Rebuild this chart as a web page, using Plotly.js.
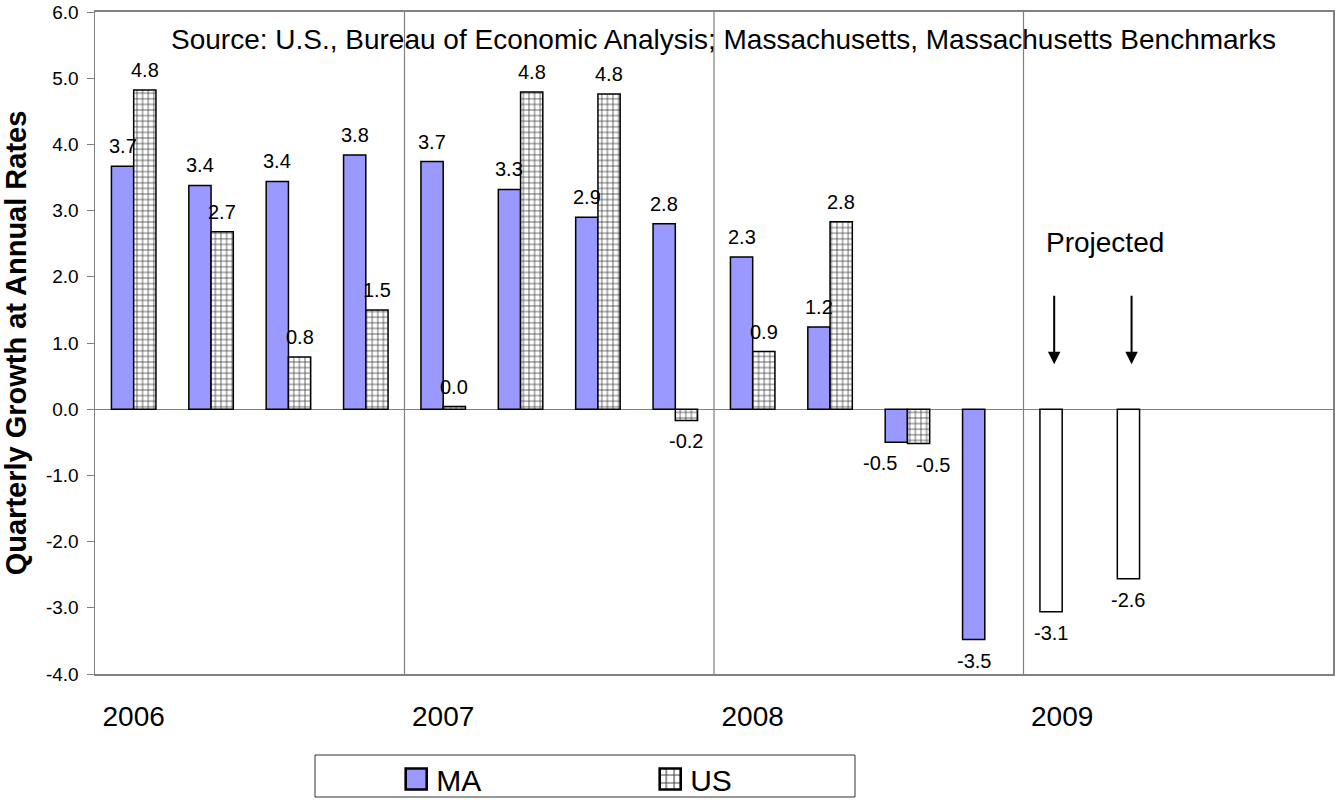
<!DOCTYPE html>
<html>
<head>
<meta charset="utf-8">
<script src="https://cdn.plot.ly/plotly-3.0.1.min.js"></script>
<style>
  html, body { margin: 0; padding: 0; background: #ffffff; }
  #chart { width: 1335px; height: 803px; }
</style>
</head>
<body>
<div id="chart"></div>
<script>
// ---- Data ----
const quarters = [
  '2006 Q1', '2006 Q2', '2006 Q3', '2006 Q4',
  '2007 Q1', '2007 Q2', '2007 Q3', '2007 Q4',
  '2008 Q1', '2008 Q2', '2008 Q3', '2008 Q4',
  '2009 Q1', '2009 Q2', '2009 Q3', '2009 Q4'
];
const years = ['2006', '2007', '2008', '2009'];
const maValues = [3.67, 3.38, 3.44, 3.84, 3.74, 3.32, 2.90, 2.80, 2.30, 1.24, -0.50, -3.48, -3.06, -2.56, null, null];
const usValues = [4.82, 2.68, 0.79, 1.50, 0.04, 4.79, 4.76, -0.17, 0.87, 2.83, -0.52, null, null, null, null, null];
const yTickVals = [-4, -3, -2, -1, 0, 1, 2, 3, 4, 5, 6];
const projectedYear = '2009';
const sourceText = 'Source: U.S., Bureau of Economic Analysis; Massachusetts, Massachusetts Benchmarks';
const yTitle = 'Quarterly Growth at Annual Rates';
const projectedLabel = 'Projected';

// ---- Styling / layout constants ----
const FONT = 'Liberation Sans, Arial, sans-serif';
const maColor = '#9999FF';
const W = 1335, H = 803;
const M = { l: 95, r: 2, t: 12, b: 129 };
const BARGAP = 0.425;
const plotW = W - M.l - M.r;
const plotH = H - M.t - M.b;
const bottomPx = H - M.b;
const pyFromPx = px => (bottomPx - px) / plotH;   // pixel row -> paper y
const pxToPaperX = px => (px - M.l) / plotW;       // pixel col -> paper x
const barHalf = (plotW / quarters.length) * (1 - BARGAP) / 4; // half of one bar width, px
const labelNudge = { 'MA|2008 Q3': -16, 'US|2008 Q3': 14 };   // label collision nudges (px)

const maColors = quarters.map(q => q.startsWith(projectedYear) ? '#FFFFFF' : maColor);
const yearStarts = years.map(y => y + ' Q1');

const traceMA = {
  type: 'bar', name: 'MA', x: quarters, y: maValues,
  marker: { color: maColors, line: { color: '#000000', width: 1.5 } },
  textposition: 'none', hoverinfo: 'x+y'
};
const traceUS = {
  type: 'bar', name: 'US', x: quarters, y: usValues,
  marker: {
    color: '#FFFFFF',
    line: { color: '#000000', width: 1.5 },
    pattern: { shape: '+', fgcolor: '#444444', bgcolor: '#FFFFFF', size: 5.6, solidity: 0.26 }
  },
  textposition: 'none', hoverinfo: 'x+y'
};

// value labels
function valueLabels(name, values, side) {
  const out = [];
  values.forEach((v, i) => {
    if (v === null) return;
    const key = name + '|' + quarters[i];
    out.push({
      xref: 'x', yref: 'y', x: quarters[i], y: v, text: v.toFixed(1), showarrow: false,
      xanchor: 'center', yanchor: 'middle',
      xshift: side * barHalf + (labelNudge[key] || 0),
      yshift: v >= 0 ? 20 : -21,
      font: { family: FONT, size: 20, color: '#000000' }
    });
  });
  return out;
}

// year separators at boundaries between years
const shapes = years.slice(1).map(y => ({
  type: 'line', xref: 'x', yref: 'paper',
  x0: quarters.indexOf(y + ' Q1') - 0.5, x1: quarters.indexOf(y + ' Q1') - 0.5,
  y0: 0, y1: 1, line: { color: '#808080', width: 1.2 }, layer: 'below'
}));
// legend frame
shapes.push({
  type: 'rect', xref: 'paper', yref: 'paper',
  x0: pxToPaperX(315), x1: pxToPaperX(855), y0: pyFromPx(797), y1: pyFromPx(755),
  line: { color: '#333333', width: 1 }, fillcolor: 'rgba(0,0,0,0)'
});

const annotations = [
  { xref: 'paper', yref: 'paper', x: pxToPaperX(723.5), y: pyFromPx(40), text: sourceText, showarrow: false,
    xanchor: 'center', yanchor: 'middle', font: { family: FONT, size: 28, color: '#000000' } },
  { xref: 'x', yref: 'y', x: projectedYear + ' Q1', y: 2.52, xshift: -18, text: projectedLabel, showarrow: false,
    xanchor: 'left', yanchor: 'middle', font: { family: FONT, size: 28, color: '#000000' } },
  { xref: 'x', yref: 'y', x: projectedYear + ' Q1', y: 0.68, xshift: -8, text: '', showarrow: true,
    ax: 0, ay: -70, arrowhead: 2, arrowsize: 1.25, arrowwidth: 2, arrowcolor: '#000000' },
  { xref: 'x', yref: 'y', x: projectedYear + ' Q2', y: 0.68, xshift: -8, text: '', showarrow: true,
    ax: 0, ay: -70, arrowhead: 2, arrowsize: 1.25, arrowwidth: 2, arrowcolor: '#000000' }
].concat(valueLabels('MA', maValues, -1), valueLabels('US', usValues, 1));

const layout = {
  width: W, height: H,
  margin: { l: M.l, r: M.r, t: M.t, b: M.b, autoexpand: false },
  paper_bgcolor: '#FFFFFF', plot_bgcolor: '#FFFFFF',
  font: { family: FONT, color: '#000000' },
  barmode: 'group', bargap: BARGAP, bargroupgap: 0,
  showlegend: true,
  legend: {
    orientation: 'h', x: 0.2433, y: pyFromPx(753), xanchor: 'left', yanchor: 'top',
    font: { family: FONT, size: 30, color: '#000000' },
    bgcolor: 'rgba(0,0,0,0)', borderwidth: 0,
    entrywidth: 209, entrywidthmode: 'pixels', traceorder: 'normal'
  },
  xaxis: {
    type: 'category', categoryorder: 'array', categoryarray: quarters,
    range: [-0.5, quarters.length - 0.5],
    tickmode: 'array', tickvals: yearStarts, ticktext: years,
    ticks: '', showgrid: false, zeroline: false,
    showline: true, mirror: true, linecolor: '#808080', linewidth: 2,
    tickfont: { family: FONT, size: 28, color: '#000000' },
    ticklabelstandoff: 16, automargin: false
  },
  yaxis: {
    range: [-4, 6], tickmode: 'array', tickvals: yTickVals, ticktext: yTickVals.map(v => v.toFixed(1)),
    ticks: 'outside', ticklen: 7, tickcolor: '#808080', tickwidth: 1,
    showgrid: false, zeroline: true, zerolinecolor: '#808080', zerolinewidth: 1.2,
    showline: true, mirror: true, linecolor: '#808080', linewidth: 1.5,
    tickfont: { family: FONT, size: 19, color: '#000000' },
    ticklabelstandoff: 4, ticklabeloverflow: 'allow',
    title: { text: '<b>' + yTitle + '</b>', font: { family: FONT, size: 29, color: '#000000' }, standoff: 13 },
    automargin: false
  },
  shapes: shapes,
  annotations: annotations
};

Plotly.newPlot('chart', [traceMA, traceUS], layout, { displayModeBar: false, staticPlot: true }).then(gd => {
  gd.querySelectorAll('.legend .legendpoints path').forEach(p => {
    const t = p.getAttribute('transform') || '';
    p.setAttribute('transform', t + ' scale(1.75)');
  });
});
</script>
</body>
</html>
